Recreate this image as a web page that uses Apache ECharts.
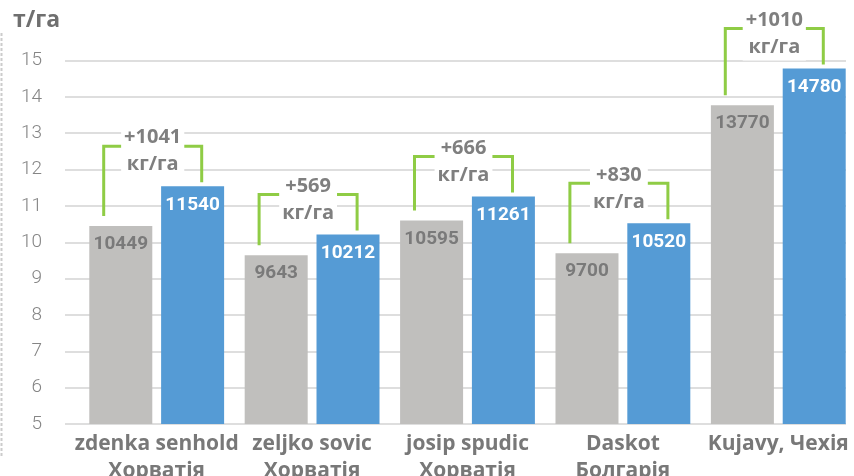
<!DOCTYPE html>
<html>
<head>
<meta charset="utf-8">
<script src="https://cdn.jsdelivr.net/npm/echarts@6/dist/echarts.min.js"></script>
<style>
  html, body { margin: 0; padding: 0; background: #fff; }
  #chart { width: 854px; height: 476px; }
</style>
</head>
<body>
<div id="chart"></div>
<script>
// values (kg/ha)
const farms = [
  "zdenka senhold\nХорватія",
  "zeljko sovic\nХорватія",
  "josip spudic\nХорватія",
  "Daskot\nБолгарія",
  "Kujavy, Чехія",
];
const baseYield = [10449, 9643, 10595, 9700, 13770];
const newYield = [11540, 10212, 11261, 10520, 14780];
const gains = [1041, 569, 666, 830, 1010];
const yTicks = [5, 6, 7, 8, 9, 10, 11, 12, 13, 14, 15];

const chart = echarts.init(document.getElementById("chart"));

const grey = "#c0bfbd";
const blue = "#559bd5";
const green = "#8fcc45";
const textGrey = "#7f7f7f";

const brackets = baseYield.map((v, i) => [i, v / 1000, newYield[i] / 1000, gains[i]]);

const option = {
  animation: false,
  title: {
    text: "т/га",
    left: 8,
    top: 4,
    textStyle: { fontFamily: "Open Sans", fontWeight: "bold", fontSize: 23, color: "#6f6f6f" },
  },
  graphic: [
    {
      type: "line",
      shape: { x1: 1.5, y1: 33, x2: 1.5, y2: 457 },
      style: { stroke: "#cccccc", lineWidth: 2, lineDash: [3, 2] },
    },
  ],
  grid: [
    { left: 65, right: 8, top: 60.5, bottom: 52, outerBoundsMode: "none" },
    { left: 79, right: -2, top: 60.5, bottom: 52, outerBoundsMode: "none" },
  ],
  xAxis: [
    { gridIndex: 0, type: "category", data: farms, show: false },
    {
      gridIndex: 1,
      type: "category",
      data: farms,
      axisLine: { show: false },
      axisTick: { show: false },
      axisLabel: {
        margin: 7,
        interval: 0,
        fontFamily: "Open Sans",
        fontWeight: "bold",
        fontSize: 21,
        lineHeight: 27,
        color: "#787878",
      },
    },
  ],
  yAxis: [
    {
      gridIndex: 0,
      type: "value",
      min: yTicks[0],
      max: yTicks[yTicks.length - 1],
      interval: 1,
      axisLine: { show: false },
      axisTick: { show: false },
      axisLabel: {
        margin: 23,
        fontFamily: "Roboto",
        fontWeight: 300,
        fontSize: 19,
        color: "#858585",
      },
      splitLine: { lineStyle: { color: "#d3d3d3", width: 1.5 } },
    },
    {
      gridIndex: 1,
      type: "value",
      min: yTicks[0],
      max: yTicks[yTicks.length - 1],
      interval: 1,
      show: false,
      splitLine: { show: false },
    },
  ],
  series: [
    {
      name: "base",
      type: "bar",
      xAxisIndex: 1,
      yAxisIndex: 1,
      barWidth: 63,
      barGap: "14%",
      data: baseYield.map((v) => v / 1000),
      itemStyle: { color: grey },
      label: {
        show: true,
        position: "insideTop",
        distance: 9,
        formatter: (p) => baseYield[p.dataIndex],
        fontFamily: "Roboto",
        fontWeight: "bold",
        fontSize: 19,
        color: "#7a7a7a",
      },
    },
    {
      name: "new",
      type: "bar",
      xAxisIndex: 1,
      yAxisIndex: 1,
      barWidth: 63,
      data: newYield.map((v) => v / 1000),
      itemStyle: { color: blue },
      label: {
        show: true,
        position: "insideTop",
        distance: 9,
        formatter: (p) => newYield[p.dataIndex],
        fontFamily: "Roboto",
        fontWeight: "bold",
        fontSize: 19,
        color: "#ffffff",
      },
    },
    {
      // green brackets with the gain text
      type: "custom",
      xAxisIndex: 1,
      yAxisIndex: 1,
      clip: false,
      z: 10,
      data: brackets,
      encode: { x: 0, y: [1, 2] },
      renderItem: (params, api) => {
        const i = api.value(0);
        const pg = api.coord([i, api.value(1)]);
        const pb = api.coord([i, api.value(2)]);
        const cx = pg[0];
        const xl = cx - 53;
        const xr = cx + 45;
        const top = Math.min(pg[1], pb[1]) - 40;
        return {
          type: "group",
          children: [
            {
              type: "polyline",
              shape: { points: [[xl, pg[1] - 10], [xl, top], [xr, top], [xr, pb[1] - 4]] },
              style: { stroke: green, lineWidth: 3, fill: "none" },
            },
            {
              type: "text",
              x: (xl + xr) / 2,
              y: top + 5,
              style: {
                text: "+" + api.value(3) + "\nкг/га",
                fill: textGrey,
                font: 'bold 20px "Open Sans"',
                align: "center",
                verticalAlign: "middle",
                lineHeight: 27,
                backgroundColor: "#ffffff",
                padding: [0, 3],
              },
            },
          ],
        };
      },
    },
  ],
};

chart.setOption(option);
</script>
</body>
</html>
